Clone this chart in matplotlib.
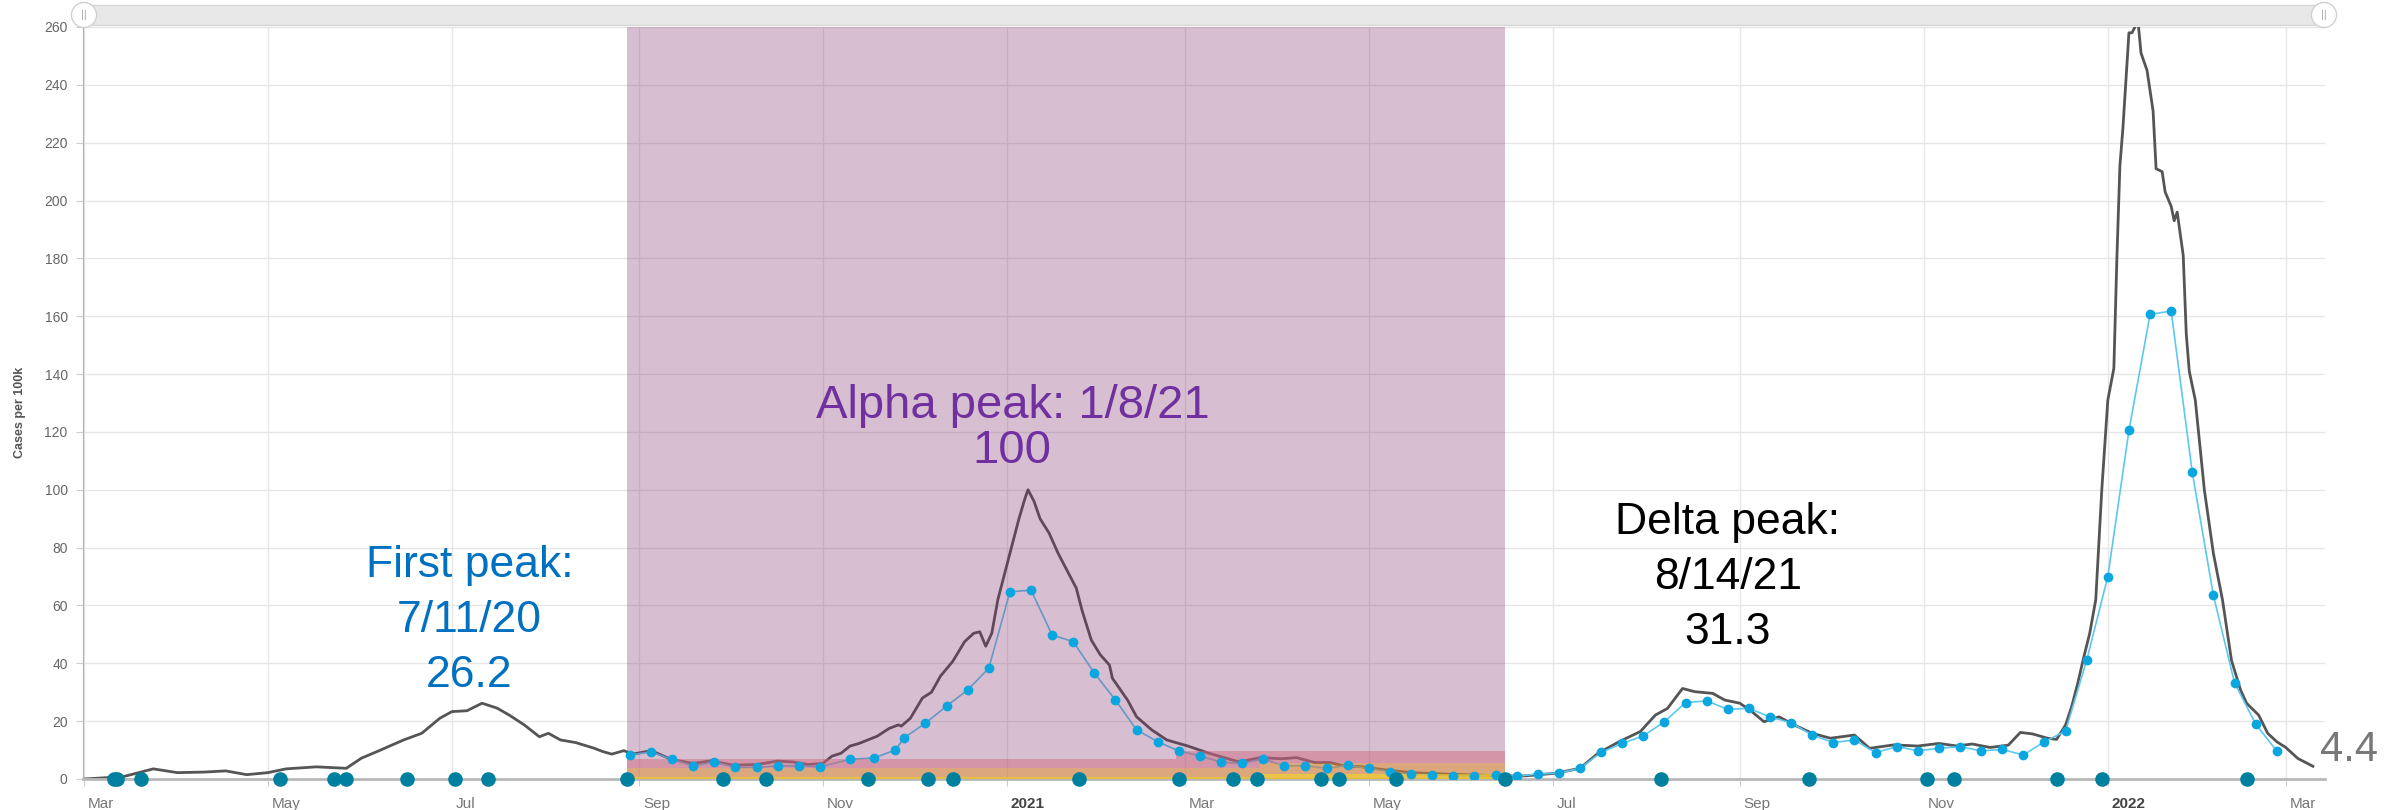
import matplotlib
matplotlib.use("Agg")
import matplotlib.pyplot as plt
from matplotlib import font_manager
from matplotlib.patches import Rectangle, Ellipse
from matplotlib.transforms import ScaledTranslation
import pandas as pd

START = pd.Timestamp("2020-03-01")   #day 0 of every series below

#daily case rate per 100k (days since START, value)
case_days = [0, 13, 23, 31, 40, 47, 54, 61, 67, 77, 87, 92, 97, 106, 112, 118, 122, 127, 132,
             137, 141, 146, 151, 154, 158, 163, 169, 172, 175, 179, 182, 188, 195, 202, 208,
             215, 223, 230, 235, 240, 245, 248, 251, 254, 257, 263, 267, 270, 271, 274, 278,
             281, 284, 288, 292, 295, 297, 299, 301, 303, 305, 308, 310, 312, 313, 315, 317,
             320, 323, 326, 329, 331, 334, 337, 340, 341, 346, 349, 354, 359, 366, 373, 383,
             390, 397, 402, 408, 413, 418, 423, 432, 440, 451, 461, 471, 478, 488, 496, 502,
             509, 516, 521, 525, 530, 534, 540, 544, 549, 553, 557, 562, 567, 573, 579, 587,
             592, 600, 608, 615, 621, 626, 632, 638, 642, 646, 651, 654, 657, 659, 661, 663,
             665, 667, 669, 671, 673, 674, 675, 676, 678, 679, 680, 681, 682, 684, 686, 687,
             689, 690, 692, 693, 694, 696, 697, 698, 700, 703, 706, 709, 712, 715, 717, 721,
             724, 727, 730, 734, 739]
case_rate = [0, 0.8, 3.5, 2.2, 2.4, 2.8, 1.5, 2.2, 3.5, 4.2, 3.7, 7.2, 9.4, 13.5, 15.8, 21, 23.3, 23.6, 26.2,
             24.5, 22.1, 18.7, 14.6, 15.8, 13.5, 12.6, 10.7, 9.5, 8.6, 9.8, 8.6, 9.8, 6.7, 5.4, 6.3,
             4.8, 5.0, 6.2, 5.9, 5.0, 5.4, 7.9, 8.9, 11.4, 12.3, 14.8, 17.5, 18.7, 18.3, 21, 28,
             30, 35.6, 40.6, 47.5, 50.4, 50.9, 45.9, 50.4, 62, 70, 82, 90, 97, 100, 96, 90,
             85, 78, 72, 66, 58, 48, 42.9, 39.4, 34.8, 27.3, 21.5, 17, 13.5, 11.4, 8.9, 5.9,
             7.4, 7, 7.4, 5.7, 5.7, 4.5, 4.3, 3.1, 2.2, 1.7, 1.4, 1.0, 1.1, 2.0, 3.7, 8.9,
             12.9, 16.4, 22.1, 24.4, 31.3, 30.2, 29.6, 27.3, 26.2, 23.3, 19.8, 21.5, 18.7, 15.8, 14.1, 15.2,
             10.6, 11.8, 11.4, 12.3, 11.4, 12.1, 10.9, 11.7, 16.1, 15.6, 14.1, 13.7, 18.7, 25, 33, 42,
             50.4, 62, 100, 131, 142, 180, 212, 225, 258, 258, 260, 262, 251, 245, 231, 211,
             210, 203, 198, 193, 196, 181, 154, 141, 131, 100, 78, 62, 41, 30.8, 26.2, 22.1,
             15.8, 12.9, 10.9, 7.1, 4.4]

#weekly rate (blue markers)
week_days = [181, 188, 195, 202, 209, 216, 223, 230, 237, 244, 254, 262, 269, 272, 279, 286, 293,
             300, 307, 314, 321, 328, 335, 342, 349, 356, 363, 370, 377, 384, 391, 398, 405, 412,
             419, 426, 433, 440, 447, 454, 461, 468, 475, 482, 489, 496, 503, 510, 517, 524, 531,
             538, 545, 552, 559, 566, 573, 580, 587, 594, 601, 608, 615, 622, 629, 636, 643, 650,
             657, 664, 671, 678, 685, 692, 699, 706, 713, 720, 727]
week_rate = [8.3, 9.4, 6.8, 4.5, 5.9, 4.0, 4.0, 4.5, 4.5, 4.2, 6.8, 7.3, 10, 14.3, 19.3, 25.2, 30.8,
             38.3, 64.7, 65.3, 49.8, 47.5, 36.6, 27.3, 17, 12.9, 9.7, 8, 5.8, 5.4, 6.9, 4.5, 4.6, 3.7,
             4.7, 3.7, 2.5, 1.7, 1.4, 1.0, 1.0, 1.4, 1.0, 1.7, 2.1, 3.7, 9.2, 12.3, 14.9, 19.8, 26.4,
             27, 24.1, 24.4, 21.5, 19.4, 15.2, 12.6, 13.5, 9.1, 11.2, 9.8, 10.6, 11.2, 9.7, 10.2, 8.3, 12.9,
             16.6, 41.1, 70, 120.5, 160.6, 161.8, 106, 63.5, 33.3, 19, 9.7]

#event dots on the baseline
event_days = [10, 11, 19, 65, 83, 87, 107, 123, 134, 180, 212, 226, 260, 280, 288, 330, 363, 381,
              389, 410, 416, 435, 471, 523, 572, 611, 620, 654, 669, 717]

#shaded period and the stacked bands inside it
shade_start, shade_end = "2020-08-28", "2021-06-15"
band_edges = ["2020-08-28", "2021-02-26", "2021-03-26", "2021-06-15"]
red_top = [6.9, 9.7, 9.7]
orange_top = [3.8, 3.8, 5.5]
yellow_top = [0.7, 0.7, 1.7]

tick_dates = ["2020-03-01", "2020-05-01", "2020-07-01", "2020-09-01", "2020-11-01", "2021-01-01",
              "2021-03-01", "2021-05-01", "2021-07-01", "2021-09-01", "2021-11-01", "2022-01-01",
              "2022-03-01"]
tick_labels = ["Mar", "May", "Jul", "Sep", "Nov", "2021", "Mar", "May", "Jul", "Sep", "Nov", "2022", "Mar"]
y_ticks = list(range(0, 261, 20))


def to_dates(days):
    return START + pd.to_timedelta(days, unit="D")


def pick_font(candidates):
    names = {f.name for f in font_manager.fontManager.ttflist}
    for c in candidates:
        if c in names:
            return c
    return "DejaVu Sans"


font = pick_font(["Liberation Sans", "Arial", "DejaVu Sans"])
plt.rcParams["font.family"] = [font, "DejaVu Sans"]

W, H = 2397, 810
fig = plt.figure(figsize=(W / 100, H / 100), dpi=100)
ax = fig.add_axes([83 / W, 31 / H, (2325 - 83) / W, (779 - 27) / H])

ax.set_xlim(to_dates([-0.3])[0], to_dates([743])[0])
ax.set_ylim(0, 260)

#grid and axes
ax.grid(True, color="#e6e6e6", linewidth=1, zorder=0)
ax.set_axisbelow(True)
for side in ["top", "right"]:
    ax.spines[side].set_visible(False)
ax.spines["left"].set_color("#b0b0b0")
ax.spines["bottom"].set_color("#b8b8b8")
ax.spines["bottom"].set_linewidth(2)

ax.set_yticks(y_ticks)
ax.tick_params(axis="y", length=5, color="#cccccc", labelsize=10, labelcolor="#666666", pad=6)
ax.set_xticks(pd.to_datetime(tick_dates))
ax.set_xticklabels(tick_labels)
ax.tick_params(axis="x", length=5, color="#cccccc", labelsize=11, labelcolor="#777777", pad=8)
for lab in ax.get_xticklabels():
    lab.set_horizontalalignment("left")
    lab.set_transform(lab.get_transform() + ScaledTranslation(4 / 100, 0, fig.dpi_scale_trans))
    if lab.get_text() in ("2021", "2022"):
        lab.set_fontweight("bold")
        lab.set_color("#444444")

#series
ax.plot(to_dates(case_days), case_rate, color="#555555", linewidth=2.0, zorder=2, clip_on=True)
ax.plot(to_dates(week_days), week_rate, color="#5bc8f0", linewidth=1.2, zorder=2)

#shaded period drawn over the lines
ax.axvspan(pd.Timestamp(shade_start), pd.Timestamp(shade_end), color="#7d2a66", alpha=0.3, lw=0, zorder=3)
edges = pd.to_datetime(band_edges)
ax.fill_between(edges, yellow_top + [yellow_top[-1]], [0] * 4, step="post", color="#f1c523", alpha=0.8, lw=0, zorder=3.1)
ax.fill_between(edges, orange_top + [orange_top[-1]], yellow_top + [yellow_top[-1]], step="post",
                color="#e4912b", alpha=0.5, lw=0, zorder=3.1)
ax.fill_between(edges, red_top + [red_top[-1]], orange_top + [orange_top[-1]], step="post",
                color="#d06d7f", alpha=0.5, lw=0, zorder=3.1)

ax.plot(to_dates(week_days), week_rate, linestyle="none", marker="o", markersize=6,
        color="#0aa6e0", zorder=4)
ax.plot(to_dates(event_days), [0] * len(event_days), linestyle="none", marker="o", markersize=9.5,
        color="#00809f", zorder=5, clip_on=False)

#annotations
ax.text(to_dates([127.8])[0], 54.8, "First peak:\n7/11/20\n26.2", color="#0070c0", fontsize=32,
        ha="center", va="center", linespacing=1.45, zorder=6)
ax.text(to_dates([307.8])[0], 129, "Alpha peak: 1/8/21", color="#7030a0", fontsize=34,
        ha="center", va="center", zorder=6)
ax.text(to_dates([307.8])[0], 113.5, "100", color="#7030a0", fontsize=34,
        ha="center", va="center", zorder=6)
ax.text(to_dates([545])[0], 69.8, "Delta peak:\n8/14/21\n31.3", color="black", fontsize=32,
        ha="center", va="center", linespacing=1.44, zorder=6)
ax.text(to_dates([741.2])[0], 10, "4.4", color="#787878", fontsize=30, ha="left", va="center",
        zorder=6, clip_on=False)

fig.text(20 / W, 1 - 412 / H, "Cases per 100k", rotation=90, fontsize=9, fontweight="bold",
         color="#555555", ha="center", va="center")

#scroll bar on top
fig.add_artist(Rectangle((80 / W, 1 - 25 / H), (2327 - 80) / W, 20 / H, transform=fig.transFigure,
                         facecolor="#e8e8e8", edgecolor="#d6d6d6", linewidth=1))
for hx in (84, 2324):
    fig.add_artist(Ellipse((hx / W, 1 - 15 / H), 25 / W, 25 / H, transform=fig.transFigure,
                           facecolor="white", edgecolor="#d0d0d0", linewidth=1, zorder=5))
    fig.text(hx / W, 1 - 15 / H, "||", fontsize=8, color="#aaaaaa", ha="center", va="center", zorder=6)

fig.savefig("out.png", dpi=100)
